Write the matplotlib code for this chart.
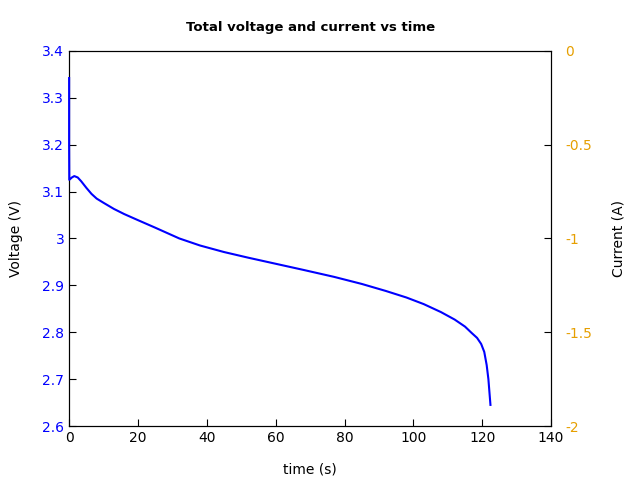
import matplotlib
matplotlib.use("Agg")
import matplotlib.pyplot as plt
from matplotlib.ticker import FuncFormatter

plt.rcParams["axes.unicode_minus"] = False

# voltage trace
t = [0, 0, 0.05, 0.8, 1.5, 2.5, 3.5, 5, 6.5, 8, 10, 13, 16, 20, 25, 32, 38, 45,
     52, 60, 68, 77, 85, 92, 98, 103, 108, 112, 115, 117, 118.5, 119.7, 120.6,
     121.3, 121.8, 122.4]
volt = [3.342, 3.2, 3.125, 3.13, 3.133, 3.13, 3.122, 3.108, 3.095, 3.085, 3.076,
        3.063, 3.052, 3.039, 3.023, 3.0, 2.985, 2.971, 2.959, 2.946, 2.933,
        2.918, 2.903, 2.888, 2.874, 2.86, 2.843, 2.827, 2.812, 2.798, 2.788,
        2.775, 2.758, 2.73, 2.7, 2.645]

fmt = FuncFormatter(lambda v, p: "%g" % round(v, 3))

fig, ax = plt.subplots(figsize=(6.4, 4.8), dpi=100)
fig.subplots_adjust(left=0.108, right=0.861, top=0.894, bottom=0.1125)

ax.plot(t, volt, color="blue", lw=1.5, zorder=3, clip_on=False)
ax.set_xlim(0, 140)
ax.set_ylim(2.6, 3.4)
ax.set_xticks(range(0, 141, 20))
ax.set_yticks([2.6, 2.7, 2.8, 2.9, 3.0, 3.1, 3.2, 3.3, 3.4])
ax.yaxis.set_major_formatter(fmt)
ax.tick_params(direction="in", length=5)
ax.tick_params(axis="y", colors="blue")
ax.tick_params(axis="y", color="black")
ax.set_xlabel("time (s)", labelpad=13)
ax.set_ylabel("Voltage (V)", labelpad=14)
ax.set_title("Total voltage and current vs time", fontsize=9.5, fontweight="bold", pad=14)

ax2 = ax.twinx()
ax2.set_ylim(-2, 0)
ax2.set_yticks([0, -0.5, -1, -1.5, -2])
ax2.yaxis.set_major_formatter(fmt)
ax2.tick_params(direction="in", length=5, colors="#e69f00")
ax2.tick_params(axis="y", color="black", pad=10)
ax2.set_ylabel("Current (A)", labelpad=14)

ax.set_zorder(ax2.get_zorder() + 1)
ax.patch.set_visible(False)

plt.savefig("out.png", dpi=100)
